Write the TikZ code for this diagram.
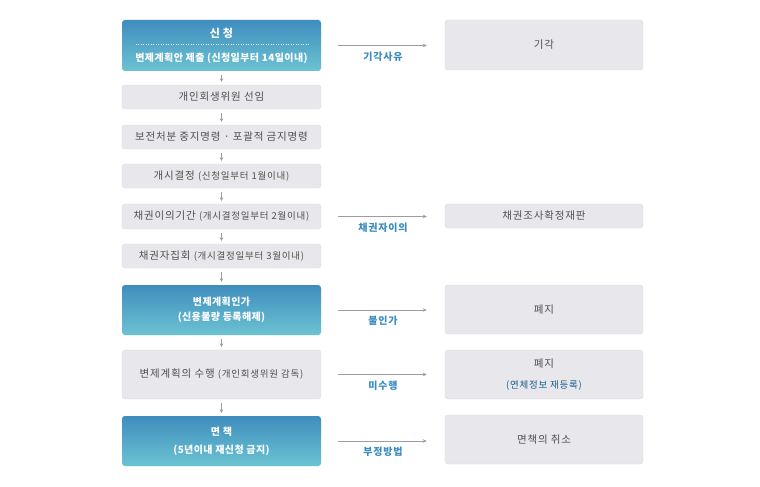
\documentclass[tikz,border=0pt]{standalone}
\usepackage{fontspec}
\setmainfont{Noto Sans CJK KR}[LetterSpace=8]
\newfontfamily\bluefont{Noto Sans CJK KR}[LetterSpace=4]
\usetikzlibrary{arrows.meta}
\definecolor{boxgrey}{HTML}{E8E8EC}
\definecolor{boxline}{HTML}{DEDEE3}
\definecolor{bluetop}{HTML}{3F8DBE}
\definecolor{bluebottom}{HTML}{6CC3D2}
\definecolor{textgrey}{HTML}{505050}
\definecolor{labelblue}{HTML}{3A8CC0}
\definecolor{darkblue}{HTML}{1C5C8C}
\definecolor{arrowgrey}{HTML}{9C9CA2}
\newcommand{\paren}[1]{{\fontsize{9.5}{15}\selectfont #1}}

\begin{document}
\begin{tikzpicture}[x=1pt,y=-1pt,
    greybox/.style={rectangle, rounded corners=3pt, fill=boxgrey, draw=boxline, line width=0.4pt,
        text=textgrey, minimum width=199pt, minimum height=24pt, inner sep=0pt, align=center,
        font=\fontsize{10.5}{15}\selectfont},
    bluebox/.style={greybox, draw=none, top color=bluetop, bottom color=bluebottom, text=white,
        font=\bluefont\fontsize{10}{15}\selectfont\bfseries},
    downarrow/.style={-{Stealth[length=3.5pt,width=3.5pt]}, arrowgrey, line width=0.6pt,
        shorten <=4pt, shorten >=3pt},
    sidearrow/.style={-{Stealth[length=4pt,width=3.5pt]}, arrowgrey, line width=0.8pt,
        shorten <=17pt, shorten >=18pt},
    reason/.style={text=labelblue, font=\fontsize{10}{12}\selectfont\bfseries, inner sep=0pt, below=6pt}]
    \fill[white] (0,0) rectangle (760,487);
    \useasboundingbox (0,0) rectangle (760,487);
    \node[bluebox, minimum height=51pt] (b1) at (221.5,45.5) {{\fontsize{11}{15}\selectfont 신 청}\\[9pt]변제계획안 제출 (신청일부터 14일이내)};
    \node[greybox] (b2) at (221.5,97) {개인회생위원 선임};
    \node[greybox] (b3) at (221.5,137) {보전처분 중지명령 · 포괄적 금지명령};
    \node[greybox] (b4) at (221.5,176) {개시결정 \paren{(신청일부터 1월이내)}};
    \node[greybox, minimum height=25pt] (b5) at (221.5,216.5) {채권이의기간 \paren{(개시결정일부터 2월이내)}};
    \node[greybox] (b6) at (221.5,256) {채권자집회 \paren{(개시결정일부터 3월이내)}};
    \node[bluebox, minimum height=50pt] (b7) at (221.5,310) {변제계획인가\\(신용불량 등록해제)};
    \node[greybox, minimum height=49pt] (b8) at (221.5,374.5) {변제계획의 수행 \paren{(개인회생위원 감독)}};
    \node[bluebox, minimum height=50pt] (b9) at (221.5,441) {면 책\\[3pt](5년이내 재신청 금지)};
    \draw[white, line width=0.6pt, dash pattern=on 1pt off 1.5pt] ([xshift=-86pt,yshift=1.5pt]b1.center) -- ([xshift=87pt,yshift=1.5pt]b1.center);

    \node[greybox, minimum width=198pt, minimum height=50pt] (r1) at (544,45) {기각};
    \node[greybox, minimum width=198pt] (r2) at (544,216) {채권조사확정재판};
    \node[greybox, minimum width=198pt, minimum height=49pt] (r3) at (544,309.5) {폐지};
    \node[greybox, minimum width=198pt, minimum height=49pt] (r4) at (544,374.5) {폐지\\[6pt]\textcolor{darkblue}{\paren{(연체정보 재등록)}}};
    \node[greybox, minimum width=198pt, minimum height=49pt] (r5) at (544,439.5) {면책의 취소};

    \foreach \a/\b in {b1/b2,b2/b3,b3/b4,b4/b5,b5/b6,b6/b7,b7/b8,b8/b9}
        \draw[downarrow] (\a.south) -- (\b.north);
    \foreach \a/\b/\t in {b1/r1/기각사유,b5/r2/채권자이의,b7/r3/불인가,b8/r4/미수행,b9/r5/부정방법}
        \draw[sidearrow] (\a.east) -- node[reason]{\t} (\a.east -| \b.west);
\end{tikzpicture}
\end{document}
